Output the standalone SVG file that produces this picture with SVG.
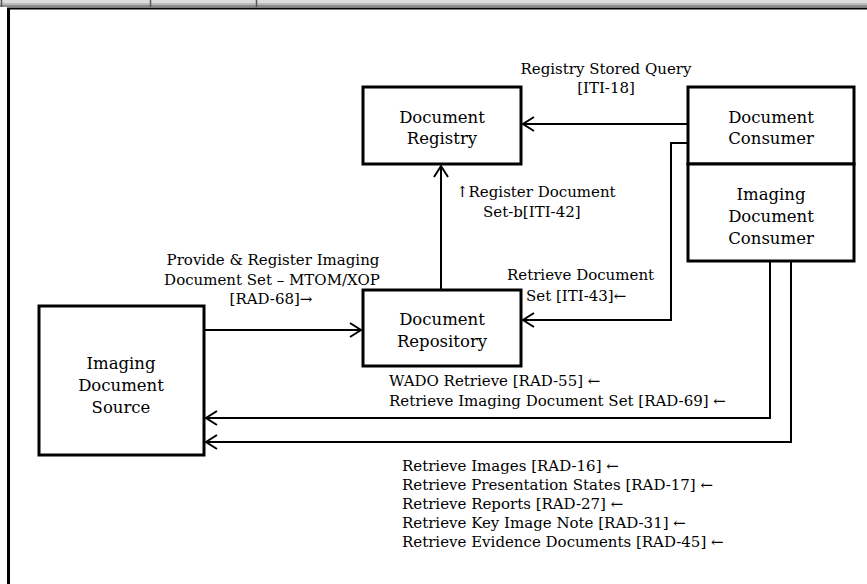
<svg xmlns="http://www.w3.org/2000/svg" width="867" height="584" viewBox="0 0 867 584">
  <style>
    .box { fill: #ffffff; stroke: #000000; stroke-width: 3; }
    .node { font-family: "DejaVu Serif", "Liberation Serif", serif; font-size: 16.5px; fill: #000000; text-anchor: middle; }
    .lbl { font-family: "DejaVu Serif", "Liberation Serif", serif; font-size: 15px; fill: #000000; }
    .mid { text-anchor: middle; }
    .wire { fill: none; stroke: #000000; stroke-width: 2; }
  </style>
  <defs>
    <marker id="open" viewBox="-13 -9 15 18" refX="0" refY="0" markerWidth="15" markerHeight="18" markerUnits="userSpaceOnUse" orient="auto">
      <path d="M-11,-7 L0,0 L-11,7" fill="none" stroke="#000000" stroke-width="2"/>
    </marker>
  </defs>

  <rect width="867" height="584" fill="#ffffff"/>

  <!-- page header strip and outer frame -->
  <g id="frame">
    <rect x="0" y="0" width="867" height="3" fill="#dcdcdc"/>
    <rect x="0" y="3" width="867" height="2" fill="#bcbcbc"/>
    <rect x="0" y="5" width="867" height="2" fill="#8c8c8c"/>
    <line x1="1.5" y1="0" x2="1.5" y2="7" stroke="#555555" stroke-width="1.5"/>
    <line x1="150.5" y1="0" x2="150.5" y2="7" stroke="#555555" stroke-width="1.5"/>
    <line x1="256.5" y1="0" x2="256.5" y2="7" stroke="#555555" stroke-width="1.5"/>
    <line x1="7" y1="8.5" x2="867" y2="8.5" stroke="#000000" stroke-width="2"/>
    <line x1="8.5" y1="8" x2="8.5" y2="584" stroke="#000000" stroke-width="3"/>
  </g>

  <g id="document-registry">
    <rect class="box" x="363" y="87" width="158" height="77"/>
    <text class="node" x="442" y="123">Document</text>
    <text class="node" x="442" y="144">Registry</text>
  </g>

  <g id="document-consumer">
    <rect class="box" x="688" y="87" width="166" height="77"/>
    <text class="node" x="771" y="123">Document</text>
    <text class="node" x="771" y="144">Consumer</text>
  </g>

  <g id="imaging-document-consumer">
    <rect class="box" x="688" y="164" width="166" height="97"/>
    <text class="node" x="771" y="200">Imaging</text>
    <text class="node" x="771" y="222">Document</text>
    <text class="node" x="771" y="244">Consumer</text>
  </g>

  <g id="document-repository">
    <rect class="box" x="363" y="290" width="158" height="76"/>
    <text class="node" x="442" y="325">Document</text>
    <text class="node" x="442" y="347">Repository</text>
  </g>

  <g id="imaging-document-source">
    <rect class="box" x="39" y="306" width="165" height="149"/>
    <text class="node" x="121" y="369">Imaging</text>
    <text class="node" x="121" y="391">Document</text>
    <text class="node" x="121" y="413">Source</text>
  </g>

  <g id="connectors">
    <path class="wire" d="M688,124 L523,124" marker-end="url(#open)"/>
    <path class="wire" d="M441,290 L441,166" marker-end="url(#open)"/>
    <path class="wire" d="M204,330 L361,330" marker-end="url(#open)"/>
    <path class="wire" d="M688,143 L671,143 L671,320 L523,320" marker-end="url(#open)"/>
    <path class="wire" d="M770,261 L770,418 L206,418" marker-end="url(#open)"/>
    <path class="wire" d="M791,261 L791,442 L206,442" marker-end="url(#open)"/>
  </g>

  <g id="labels">
    <text class="lbl mid" x="606" y="74">Registry Stored Query</text>
    <text class="lbl mid" x="606" y="93">[ITI-18]</text>

    <text class="lbl" x="456" y="197">↑Register Document</text>
    <text class="lbl" x="483" y="217">Set-b[ITI-42]</text>

    <text class="lbl mid" x="273" y="265">Provide &amp; Register Imaging</text>
    <text class="lbl mid" x="272" y="285">Document Set – MTOM/XOP</text>
    <text class="lbl mid" x="271" y="304">[RAD-68]→</text>

    <text class="lbl" x="507" y="280">Retrieve Document</text>
    <text class="lbl" x="526" y="301">Set [ITI-43]←</text>

    <text class="lbl" x="389" y="386">WADO Retrieve [RAD-55] ←</text>
    <text class="lbl" x="389" y="406">Retrieve Imaging Document Set [RAD-69] ←</text>

    <text class="lbl" x="402" y="471">Retrieve Images [RAD-16] ←</text>
    <text class="lbl" x="402" y="490">Retrieve Presentation States [RAD-17] ←</text>
    <text class="lbl" x="402" y="509">Retrieve Reports [RAD-27] ←</text>
    <text class="lbl" x="402" y="528">Retrieve Key Image Note [RAD-31] ←</text>
    <text class="lbl" x="402" y="547">Retrieve Evidence Documents [RAD-45] ←</text>
  </g>
</svg>
